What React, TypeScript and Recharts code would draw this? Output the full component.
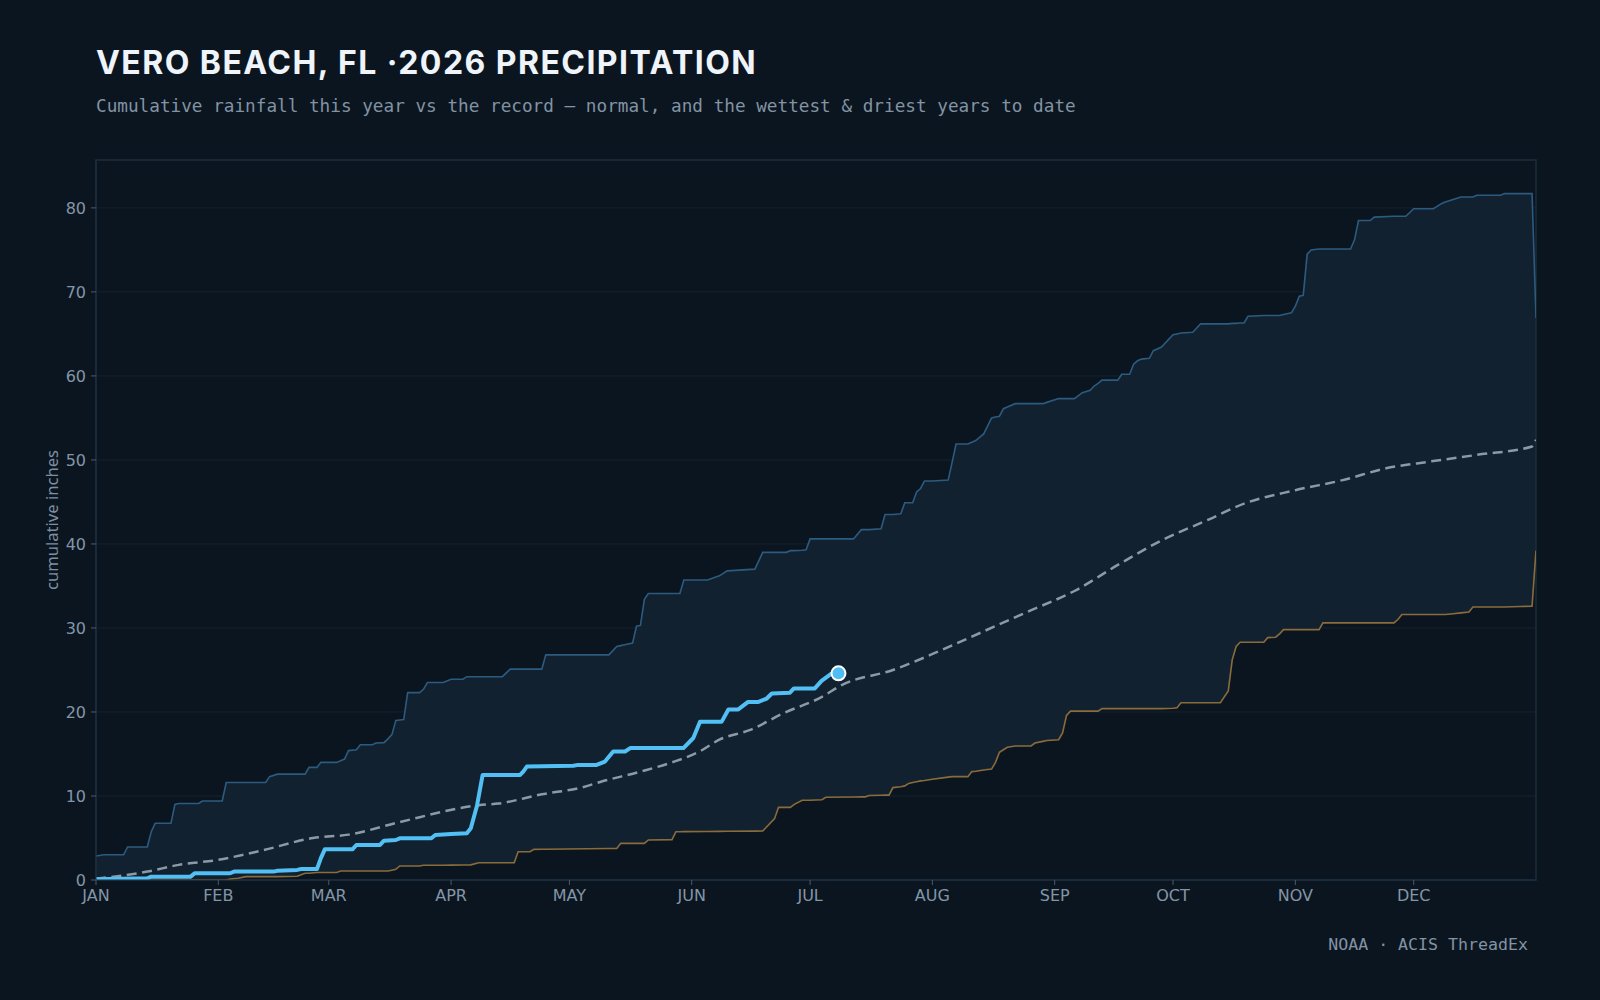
import React from 'react';
import {
  ComposedChart,
  Area,
  Line,
  XAxis,
  YAxis,
  CartesianGrid,
  ReferenceDot,
  ReferenceArea,
} from 'recharts';

// ---------- categories / ticks ----------
const MONTH_LABELS = ['JAN', 'FEB', 'MAR', 'APR', 'MAY', 'JUN', 'JUL', 'AUG', 'SEP', 'OCT', 'NOV', 'DEC'];
const MONTH_START_DAYS = [0, 31, 59, 90, 120, 151, 181, 212, 243, 273, 304, 334];
const Y_TICKS = [0, 10, 20, 30, 40, 50, 60, 70, 80];
const Y_MAX = 85.7;
const X_MAX = 365;

// ---------- record band (driest / wettest years to date), day of year ----------
const BAND_DAYS = [
  0, 2, 7, 8, 13, 14, 15, 19, 20, 21, 26, 27, 32, 33, 34, 36, 38, 43, 44, 46, 51, 53, 54, 56, 57, 61, 62, 63, 64, 66,
  67, 70, 71, 73, 74, 75, 76, 77, 78, 79, 82, 83, 84, 88, 90, 93, 94, 95, 97, 103, 105, 106, 107, 110, 111, 113, 114,
  130, 132, 133, 134, 136, 137, 138, 139, 140, 146, 147, 148, 149, 155, 158, 160, 167, 169, 172, 173, 175, 176, 177,
  179, 180, 181, 184, 185, 192, 194, 195, 196, 199, 200, 201, 202, 204, 205, 206, 207, 208, 209, 210, 212, 216, 217,
  218, 221, 222, 223, 225, 227, 228, 229, 230, 231, 233, 237, 238, 240, 241, 244, 245, 246, 247, 248, 250, 252, 253,
  254, 255, 259, 260, 262, 263, 264, 265, 267, 268, 270, 273, 274, 275, 278, 280, 285, 287, 288, 289, 290, 291, 292,
  296, 297, 299, 300, 301, 303, 304, 305, 306, 307, 308, 310, 311, 318, 319, 320, 323, 324, 329, 330, 331, 332, 334,
  339, 341, 342, 344, 346, 348, 349, 350, 356, 357, 361, 364, 365,
];
const DRIEST = [
  0, 0, 0, 0, 0, 0, 0, 0, 0, 0, 0, 0, 0, 0, 0.1, 0.2, 0.4, 0.4, 0.4, 0.4, 0.45, 0.8, 0.8, 0.9, 0.9, 0.9, 1.07, 1.07,
  1.07, 1.07, 1.07, 1.07, 1.07, 1.07, 1.07, 1.17, 1.27, 1.67, 1.67, 1.67, 1.67, 1.75, 1.75, 1.75, 1.77, 1.78, 1.79,
  1.8, 2.06, 2.06, 2.06, 2.06, 3.37, 3.37, 3.65, 3.66, 3.66, 3.75, 3.76, 4.36, 4.36, 4.36, 4.36, 4.36, 4.36, 4.76,
  4.8, 5.75, 5.75, 5.76, 5.78, 5.79, 5.8, 5.82, 5.83, 7.3, 8.65, 8.65, 8.65, 9.0, 9.5, 9.5, 9.5, 9.55, 9.85, 9.88,
  9.9, 9.9, 10.05, 10.08, 10.1, 10.1, 11.0, 11.1, 11.2, 11.5, 11.6, 11.7, 11.8, 11.85, 12.0, 12.25, 12.3, 12.3, 12.3,
  12.9, 12.95, 13.1, 13.2, 14.0, 15.2, 15.5, 15.8, 15.95, 15.95, 16.3, 16.5, 16.6, 16.7, 17.5, 19.6, 20.1, 20.1, 20.1,
  20.1, 20.1, 20.1, 20.4, 20.4, 20.4, 20.4, 20.4, 20.4, 20.4, 20.4, 20.4, 20.4, 20.45, 20.5, 21.1, 21.1, 21.1, 21.1,
  22.5, 26.2, 27.8, 28.3, 28.3, 28.3, 28.3, 28.85, 28.9, 29.3, 29.8, 29.8, 29.8, 29.8, 29.8, 29.8, 29.8, 29.8,
  30.6, 30.6, 30.6, 30.6, 30.6, 30.6, 30.6, 31.0, 31.6, 31.6, 31.6, 31.6, 31.6, 31.6, 31.7, 31.8, 31.9, 32.5, 32.5,
  32.5, 32.5, 32.55, 32.6, 39.2,
];
const WETTEST = [
  2.86, 3.0, 3.0, 3.93, 3.93, 5.75, 6.75, 6.75, 9.0, 9.1, 9.1, 9.4, 9.4, 11.6, 11.6, 11.6, 11.6, 11.6, 12.3, 12.6,
  12.6, 12.6, 13.4, 13.4, 14.0, 14.0, 14.2, 14.4, 15.4, 15.5, 16.1, 16.1, 16.3, 16.35, 16.8, 17.3, 19.0, 19.05, 19.1,
  22.3, 22.3, 22.7, 23.5, 23.5, 23.9, 23.9, 24.2, 24.2, 24.2, 24.2, 25.1, 25.1, 25.1, 25.1, 25.1, 25.1, 26.8, 26.8,
  27.8, 27.9, 28.0, 28.2, 30.2, 30.3, 33.4, 34.1, 34.1, 34.1, 34.1, 35.7, 35.7, 36.2, 36.8, 37.0, 39.0, 39.0, 39.0,
  39.0, 39.2, 39.2, 39.25, 39.3, 40.6, 40.6, 40.6, 40.6, 41.7, 41.7, 41.7, 41.8, 43.5, 43.5, 43.5, 43.6, 44.9, 44.9,
  44.9, 46.2, 46.6, 47.5, 47.5, 47.6, 49.7, 51.9, 51.9, 52.1, 52.3, 53.1, 55.0, 55.1, 55.2, 56.1, 56.3, 56.7, 56.7,
  56.7, 56.7, 56.85, 57.3, 57.3, 57.3, 57.3, 57.3, 58.0, 58.3, 58.8, 59.1, 59.5, 59.5, 60.2, 60.2, 61.4, 61.8, 62.0,
  62.1, 63.0, 63.4, 64.9, 65.0, 65.1, 65.2, 66.2, 66.2, 66.2, 66.25, 66.25, 66.3, 66.3, 67.1, 67.2, 67.2, 67.2, 67.2,
  67.3, 67.5, 68.3, 69.5, 69.6, 74.5, 75.0, 75.1, 75.1, 75.1, 76.2, 78.5, 78.5, 78.9, 79.0, 79.0, 79.0, 79.0, 79.9,
  79.9, 80.5, 80.7, 81.0, 81.3, 81.3, 81.3, 81.5, 81.5, 81.7, 81.7, 81.7, 66.9,
];

// ---------- normal ----------
const NORMAL_DAYS = [
  0, 13, 21, 31, 42, 55, 64, 77, 97, 102, 113, 123, 128, 138, 146, 153, 158, 166, 174, 184, 189, 202, 214, 225, 236,
  248, 259, 270, 282, 291, 304, 316, 327, 338, 350, 364, 365,
];
const NORMAL = [
  0.15, 1.0, 1.8, 2.4, 3.5, 5.0, 5.4, 6.9, 8.9, 9.1, 10.2, 11.0, 11.7, 12.9, 14.0, 15.3, 16.7, 17.9, 19.8, 21.8, 23.2,
  25.0, 27.3, 29.6, 31.9, 34.4, 37.5, 40.4, 42.9, 44.8, 46.4, 47.6, 49.0, 49.8, 50.6, 51.6, 52.4,
];

// ---------- this year ----------
const THIS_YEAR_DAYS = [
  0, 13, 14, 24, 25, 34, 35, 45, 46, 51, 52, 56, 57, 58, 65, 66, 72, 73, 76, 77, 85, 86, 90, 94, 95, 96.6, 98, 107.5,
  108.3, 109.2, 121, 122.2, 126.9, 129, 131.1, 134.1, 135.4, 148.9, 151.4, 153.1, 158.6, 160.3, 162.8, 165.3, 167.9,
  170, 171.3, 175.9, 176.9, 182.2, 183.9, 186.5, 188.2,
];
const THIS_YEAR = [
  0.1, 0.2, 0.4, 0.4, 0.8, 0.8, 1.0, 1.0, 1.1, 1.2, 1.3, 1.3, 2.6, 3.65, 3.65, 4.17, 4.17, 4.68, 4.76, 4.96, 4.96,
  5.36, 5.48, 5.56, 6.15, 8.9, 12.5, 12.5, 12.9, 13.5, 13.6, 13.7, 13.7, 14.1, 15.3, 15.3, 15.7, 15.7, 16.9, 18.85,
  18.85, 20.3, 20.3, 21.2, 21.2, 21.6, 22.2, 22.3, 22.8, 22.8, 23.7, 24.6, 24.6,
];

// ---------- tables built for the library ----------
const bandData = BAND_DAYS.map((d, i) => ({
  day: d,
  dry: DRIEST[i],
  wet: WETTEST[i],
  range: [DRIEST[i], WETTEST[i]],
}));
const normalData = NORMAL_DAYS.map((d, i) => ({ day: d, normal: NORMAL[i] }));
const yearData = THIS_YEAR_DAYS.map((d, i) => ({ day: d, year: THIS_YEAR[i] }));
const lastYearDay = THIS_YEAR_DAYS[THIS_YEAR_DAYS.length - 1];
const lastYearVal = THIS_YEAR[THIS_YEAR.length - 1];

const BG = '#0b1520';
const TICK_COLOR = '#8395a7';

export default function App() {
  return (
    <div
      style={{
        position: 'absolute',
        left: 0,
        top: 0,
        width: 1600,
        height: 1000,
        background: BG,
        overflow: 'hidden',
      }}
    >
      <ComposedChart
        width={1600}
        height={1000}
        data={bandData}
        margin={{ top: 160, right: 64, bottom: 90, left: 0 }}
      >
        <CartesianGrid vertical={false} stroke="#15232f" strokeWidth={1} />
        <XAxis
          dataKey="day"
          type="number"
          domain={[0, X_MAX]}
          ticks={MONTH_START_DAYS}
          interval={0}
          allowDataOverflow
          tickFormatter={(d: number) => MONTH_LABELS[MONTH_START_DAYS.indexOf(d)]}
          axisLine={{ stroke: '#1c2e40' }}
          tickLine={{ stroke: '#4a5b6c' }}
          tickSize={5}
          tickMargin={5}
          tick={{ fill: TICK_COLOR, fontSize: 16, fontFamily: 'DejaVu Sans' }}
        />
        <YAxis
          type="number"
          domain={[0, Y_MAX]}
          ticks={Y_TICKS}
          interval={0}
          allowDataOverflow
          width={96}
          axisLine={{ stroke: '#1c2e40' }}
          tickLine={{ stroke: '#4a5b6c' }}
          tickSize={5}
          tickMargin={5}
          tick={{ fill: TICK_COLOR, fontSize: 16, fontFamily: 'DejaVu Sans' }}
        />
        <Area
          dataKey="range"
          type="linear"
          stroke="none"
          fill="#12212f"
          fillOpacity={1}
          isAnimationActive={false}
        />
        <Line dataKey="wet" type="linear" stroke="#2c5b80" strokeWidth={1.6} dot={false} isAnimationActive={false} />
        <Line dataKey="dry" type="linear" stroke="#8a6c3c" strokeWidth={1.6} dot={false} isAnimationActive={false} />
        <Line
          data={normalData}
          dataKey="normal"
          type="monotone"
          stroke="#8c9aa7"
          strokeWidth={2.5}
          strokeDasharray="10 5.5"
          dot={false}
          isAnimationActive={false}
        />
        <Line
          data={yearData}
          dataKey="year"
          type="linear"
          stroke="#52bff5"
          strokeWidth={4}
          strokeLinejoin="round"
          dot={false}
          isAnimationActive={false}
        />
        <ReferenceArea x1={0} x2={X_MAX} y1={0} y2={Y_MAX} fill="none" stroke="#1b2c3d" strokeWidth={1.5} />
        <ReferenceDot
          x={lastYearDay}
          y={lastYearVal}
          r={7}
          fill="#4fbdf3"
          stroke="#ffffff"
          strokeWidth={2}
        />
      </ComposedChart>
      <svg
        width={1600}
        height={1000}
        style={{ position: 'absolute', left: 0, top: 0, pointerEvents: 'none' }}
      >
        <text
          x={96}
          y={74}
          fill="#eef4fa"
          fontFamily="Inter"
          fontWeight={700}
          fontSize={32}
          letterSpacing={1.45}
        >
          VERO BEACH, FL ·2026 PRECIPITATION
        </text>
        <text x={96} y={112} fill="#8293a3" fontFamily="DejaVu Sans Mono" fontSize={17.7}>
          Cumulative rainfall this year vs the record — normal, and the wettest &amp; driest years to date
        </text>
        <text
          transform="translate(57.5, 520) rotate(-90)"
          textAnchor="middle"
          fill="#7e8fa0"
          fontFamily="Noto Sans"
          fontSize={16.6}
        >
          cumulative inches
        </text>
        <text x={1528} y={950} textAnchor="end" fill="#8293a3" fontFamily="DejaVu Sans Mono" fontSize={16.6}>
          NOAA · ACIS ThreadEx
        </text>
      </svg>
    </div>
  );
}
